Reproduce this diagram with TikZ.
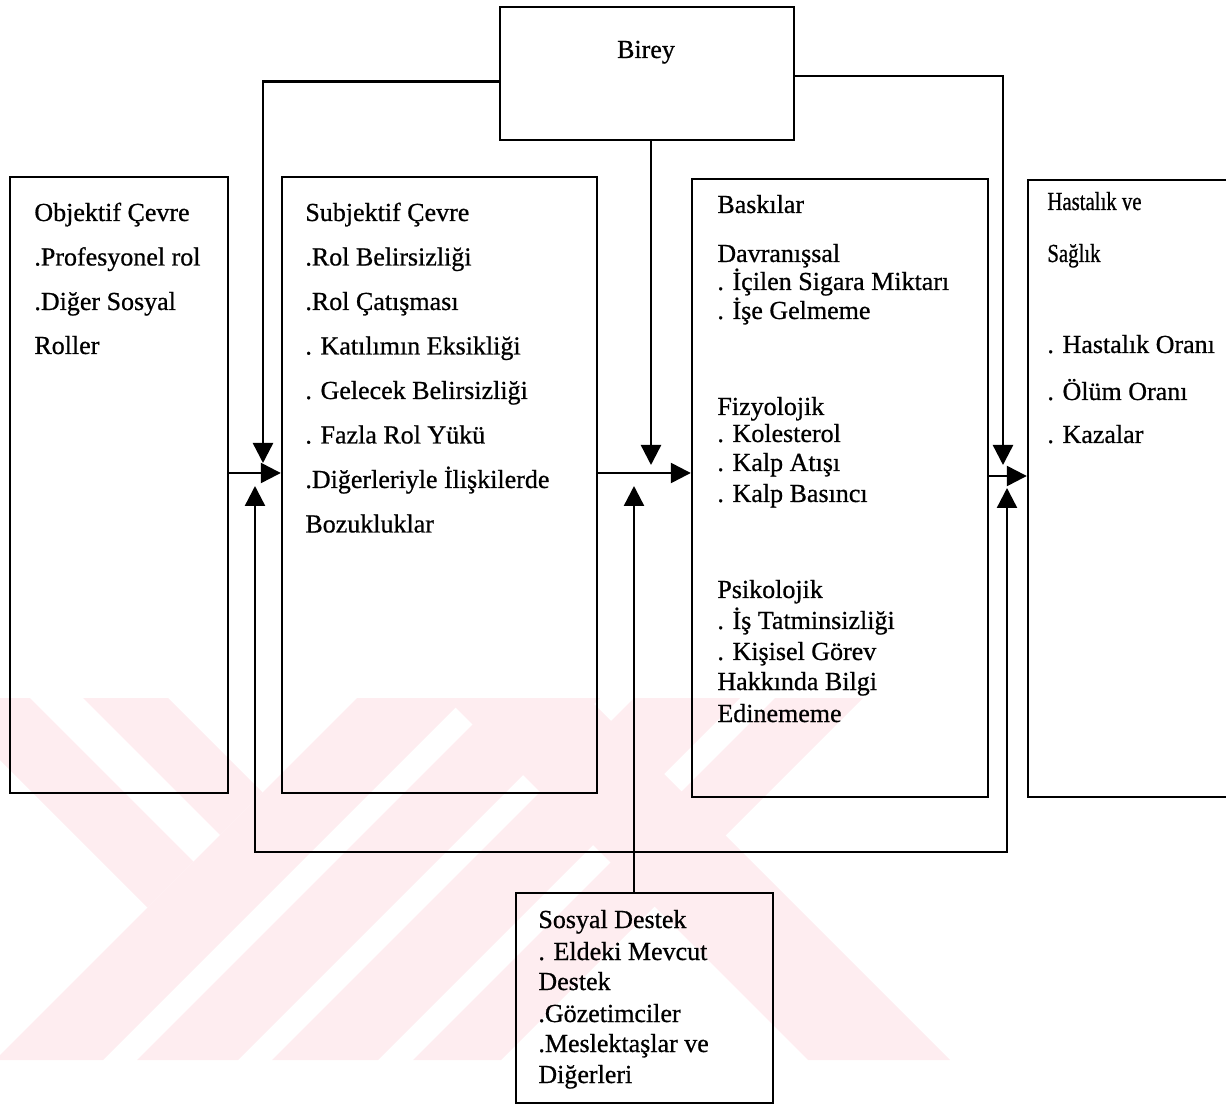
\documentclass[tikz,border=0pt]{standalone}
\usepackage{fontspec}
\setmainfont{Liberation Serif}[FakeBold=0.7]
\newfontfamily\narrowserif{Liberation Serif}[FakeStretch=0.8,FakeBold=0.7]
\usetikzlibrary{arrows.meta,fit}
\definecolor{wmpink}{RGB}{254,237,240}

\begin{document}
\begin{tikzpicture}[x=0.5pt,y=-0.5pt,
  box/.style={draw, line width=1.2pt, inner sep=0pt},
  conn/.style={line width=1.2pt},
  arr/.style={conn, -{Triangle[length=10pt,width=10pt]}},
  lbl/.style={anchor=base west, inner sep=0pt, font=\fontsize{13pt}{15pt}\selectfont},
  wm/.style={fill=wmpink, draw=none},
]
\useasboundingbox (0,0) rectangle (1226,1106);
\clip (0,0) rectangle (1226,1106);

% pale watermark in the lower half
\fill[wm] (0,698) -- (30,698) -- (193.5,861.5) -- (147.5,907.5) -- (0,760) -- cycle;
\fill[wm] (83,698) -- (168,698) -- (262.5,792.5) -- (220,835) -- cycle;
\fill[wm] (357,698) -- (465,698) -- (103,1060) -- (0,1060) -- (0,1055) -- cycle;
\fill[wm] (499,698) -- (600,698) -- (238,1060) -- (137,1060) -- cycle;
\fill[wm] (634,698) -- (740,698) -- (378,1060) -- (272,1060) -- cycle;
\fill[wm] (775,698) -- (863,698) -- (501,1060) -- (413,1060) -- cycle;
\fill[wm] (446,698) -- (588,698) -- (950,1060) -- (808,1060) -- cycle;

% boxes
\node[box, fit={(500,7) (794,140)}] (birey) {};
\node[box, fit={(10,177) (228,793)}] (objektif) {};
\node[box, fit={(282,177) (597,793)}] (subjektif) {};
\node[box, fit={(692,179) (988,797)}] (baskilar) {};
\node[box, fit={(1028,180) (1250,797)}] (hastalik) {};
\node[box, fit={(516,893) (773,1103)}] (destek) {};

% texts
\node[lbl, anchor=base] (tbirey) at (646,58) {Birey};

\node[lbl] (o1) at (34,221) {Objektif Çevre};
\node[lbl] (o2) at (34,265.5) {.Profesyonel rol};
\node[lbl] (o3) at (34,310) {.Diğer Sosyal};
\node[lbl] (o4) at (34,354) {Roller};

\node[lbl] (s1) at (305,221) {Subjektif Çevre};
\node[lbl] (s2) at (305,265.5) {.Rol Belirsizliği};
\node[lbl] (s3) at (305,310) {.Rol Çatışması};
\node[lbl] (s4) at (305,354.5) {. Katılımın Eksikliği};
\node[lbl] (s5) at (305,399) {. Gelecek Belirsizliği};
\node[lbl] (s6) at (305,443.5) {. Fazla Rol Yükü};
\node[lbl] (s7) at (305,488) {.Diğerleriyle İlişkilerde};
\node[lbl] (s8) at (305,532.5) {Bozukluklar};

\node[lbl] (b1) at (717,213) {Baskılar};
\node[lbl] (b2) at (717,262) {Davranışsal};
\node[lbl] (b3) at (717,290) {. İçilen Sigara Miktarı};
\node[lbl] (b4) at (717,319) {. İşe Gelmeme};
\node[lbl] (b5) at (717,415) {Fizyolojik};
\node[lbl] (b6) at (717,442) {. Kolesterol};
\node[lbl] (b7) at (717,471) {. Kalp Atışı};
\node[lbl] (b8) at (717,502) {. Kalp Basıncı};
\node[lbl] (b9) at (717,598) {Psikolojik};
\node[lbl] (b10) at (717,629) {. İş Tatminsizliği};
\node[lbl] (b11) at (717,660) {. Kişisel Görev};
\node[lbl] (b12) at (717,690) {Hakkında Bilgi};
\node[lbl] (b13) at (717,722) {Edinememe};

\node[lbl, font=\fontsize{13pt}{15pt}\narrowserif] (h1) at (1047,210) {Hastalık ve};
\node[lbl, font=\fontsize{13pt}{15pt}\narrowserif] (h2) at (1047,262) {Sağlık};
\node[lbl] (h3) at (1047,353) {. Hastalık Oranı};
\node[lbl] (h4) at (1047,400) {. Ölüm Oranı};
\node[lbl] (h5) at (1047,443) {. Kazalar};

\node[lbl] (d1) at (538,928) {Sosyal Destek};
\node[lbl] (d2) at (538,960) {. Eldeki Mevcut};
\node[lbl] (d3) at (538,990) {Destek};
\node[lbl] (d4) at (538,1022) {.Gözetimciler};
\node[lbl] (d5) at (538,1052) {.Meslektaşlar ve};
\node[lbl] (d6) at (538,1083) {Diğerleri};

% arrow end points
\coordinate (dL) at (263,463);
\coordinate (dC) at (651,465);
\coordinate (dR) at (1003,465);
\coordinate (uL) at (255,486);
\coordinate (uC) at (634,486);
\coordinate (uR) at (1007,488);
\coordinate (loopR) at (1007,852);
\coordinate (hA) at (0,473);
\coordinate (hB) at (0,476);

% influence of the individual
\draw[arr] ([yshift=-4pt]birey.west) -| (dL);
\draw[arr] (birey.south -| dC) -- (dC);
\draw[arr] ([yshift=-1.2pt]birey.east) -| (dR);

% main chain
\draw[arr] (objektif.east |- hA) -- (subjektif.west |- hA);
\draw[arr] (subjektif.east |- hA) -- (baskilar.west |- hA);
\draw[arr] (baskilar.east |- hB) -- (hastalik.west |- hB);

% social support
\draw[arr] (destek.north -| uC) -- (uC);
\draw[conn, {Triangle[length=10pt,width=10pt]}-{Triangle[length=10pt,width=10pt]}] (uL) |- (loopR) -- (uR);
\end{tikzpicture}
\end{document}
